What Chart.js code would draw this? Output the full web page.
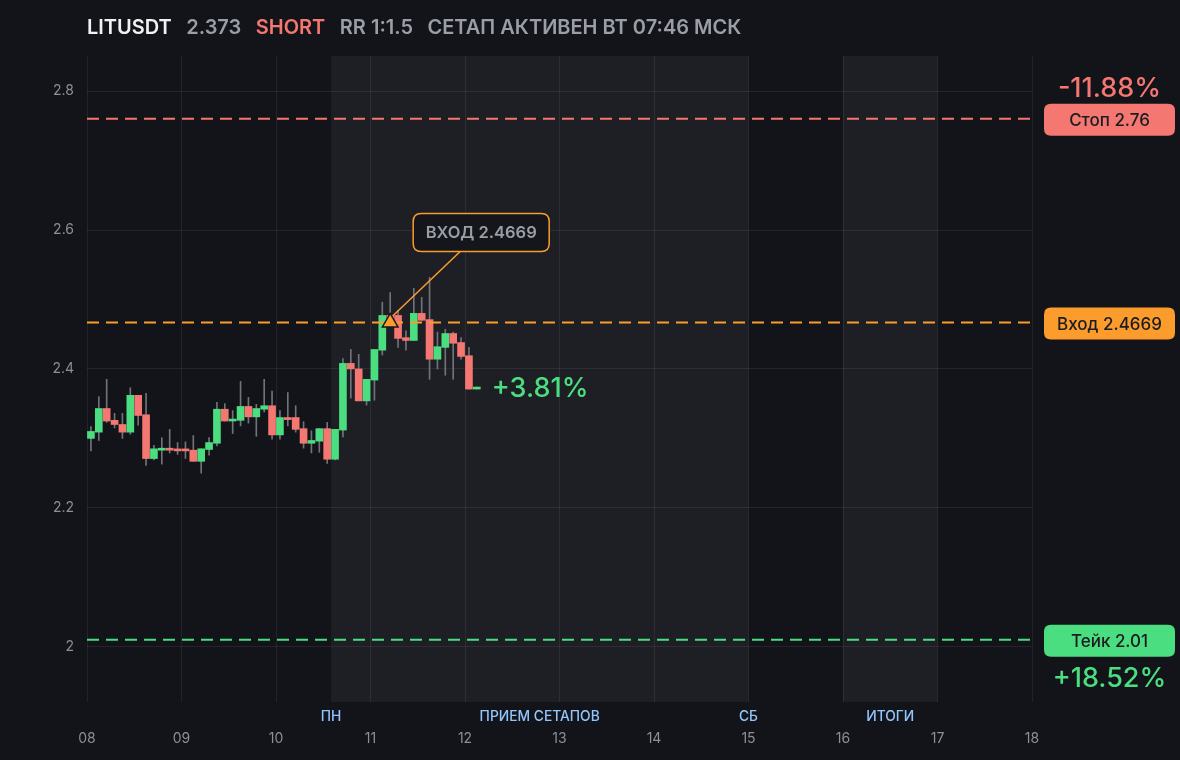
<!DOCTYPE html>
<html>
<head>
<meta charset="utf-8">
<script src="https://cdn.jsdelivr.net/npm/chart.js@4.4.1/dist/chart.umd.min.js"></script>
<style>
  html, body { margin: 0; padding: 0; background: #131419; }
  canvas { display: block; }
</style>
</head>
<body>
<canvas id="grafico" width="1180" height="760"></canvas>
<script>
// 2h свечи LITUSDT, 08..12
const opens  = [2.300,2.309,2.343,2.326,2.320,2.309,2.362,2.334,2.271,2.283,2.285,2.284,2.284,2.283,2.267,2.284,2.293,2.342,2.325,2.326,2.346,2.331,2.342,2.347,2.305,2.330,2.330,2.314,2.293,2.296,2.314,2.270,2.312,2.408,2.400,2.354,2.384,2.427,2.477,2.477,2.445,2.441,2.480,2.471,2.414,2.431,2.451,2.438,2.419,2.371];
const highs  = [2.317,2.360,2.385,2.336,2.336,2.373,2.362,2.365,2.290,2.301,2.313,2.294,2.295,2.304,2.285,2.301,2.352,2.350,2.340,2.382,2.359,2.349,2.385,2.368,2.340,2.366,2.347,2.324,2.311,2.314,2.323,2.313,2.415,2.428,2.421,2.385,2.428,2.496,2.510,2.484,2.455,2.516,2.503,2.532,2.453,2.457,2.453,2.445,2.431,2.374];
const lows   = [2.282,2.297,2.323,2.315,2.300,2.306,2.319,2.261,2.269,2.263,2.279,2.277,2.271,2.267,2.250,2.276,2.289,2.325,2.307,2.318,2.322,2.303,2.338,2.299,2.299,2.318,2.309,2.286,2.279,2.280,2.264,2.269,2.302,2.358,2.354,2.348,2.355,2.420,2.462,2.431,2.427,2.441,2.470,2.385,2.400,2.391,2.385,2.414,2.371,2.371];
const closes = [2.310,2.343,2.325,2.320,2.309,2.362,2.333,2.271,2.285,2.285,2.283,2.282,2.282,2.267,2.285,2.294,2.342,2.325,2.327,2.346,2.331,2.343,2.347,2.305,2.330,2.327,2.313,2.293,2.297,2.314,2.270,2.313,2.408,2.400,2.354,2.385,2.428,2.477,2.466,2.444,2.441,2.480,2.470,2.414,2.432,2.451,2.437,2.418,2.371,2.373];

const firstDay = 8;
const candleStep = 1 / 12; // 2 часа
const times = opens.map((_, i) => firstDay + (i + 0.5) * candleStep);

const entryPrice = 2.4669;
const stopPrice = 2.76;
const takePrice = 2.01;
const entryIndex = 38;

const xTickValues = [8, 9, 10, 11, 12, 13, 14, 15, 16, 17, 18];
const xTickLabels = ['08', '09', '10', '11', '12', '13', '14', '15', '16', '17', '18'];
const yTickValues = [2, 2.2, 2.4, 2.6, 2.8];
const yTickLabels = ['2', '2.2', '2.4', '2.6', '2.8'];

const bands = [[10.5833, 15], [16, 17]];
const bandLabels = [['ПН', 10.5833], ['ПРИЕМ СЕТАПОВ', 12.79], ['СБ', 15], ['ИТОГИ', 16.5]];

const VERDE = '#4ade80';
const ROJO = '#f47771';
const NARANJA = '#fb9c2c';
const GRIS = '#9a9ea6';

const lastClose = closes[closes.length - 1];
const pct = v => (entryPrice - v) / entryPrice * 100;
const fmtPct = v => (v >= 0 ? '+' : '') + v.toFixed(2) + '%';

const headerParts = [
  ['LITUSDT', '#f1f2f4'],
  [String(lastClose), GRIS],
  ['SHORT', ROJO],
  ['RR 1:1.5', GRIS],
  ['СЕТАП АКТИВЕН ВТ 07:46 МСК', GRIS]
];

function roundRect(ctx, x, y, w, h, r) {
  ctx.beginPath();
  ctx.moveTo(x + r, y);
  ctx.lineTo(x + w - r, y);
  ctx.quadraticCurveTo(x + w, y, x + w, y + r);
  ctx.lineTo(x + w, y + h - r);
  ctx.quadraticCurveTo(x + w, y + h, x + w - r, y + h);
  ctx.lineTo(x + r, y + h);
  ctx.quadraticCurveTo(x, y + h, x, y + h - r);
  ctx.lineTo(x, y + r);
  ctx.quadraticCurveTo(x, y, x + r, y);
  ctx.closePath();
}

const extras = {
  id: 'extras',
  beforeDraw(chart) {
    const { ctx, chartArea: a, scales: { x } } = chart;
    ctx.save();
    ctx.fillStyle = '#131419';
    ctx.fillRect(0, 0, chart.width, chart.height);
    ctx.fillStyle = '#1e1f24';
    bands.forEach(b => {
      const x1 = x.getPixelForValue(b[0]);
      const x2 = x.getPixelForValue(b[1]);
      ctx.fillRect(x1, a.top, x2 - x1, a.bottom - a.top);
    });
    ctx.restore();
  },
  afterDatasetsDraw(chart) {
    const { ctx, scales: { x, y } } = chart;
    const px = x.getPixelForValue(times[entryIndex]);
    const py = y.getPixelForValue(entryPrice);
    const bw = 136, bh = 38;
    const bx = px + 23, by = py - 109;
    ctx.save();
    ctx.strokeStyle = NARANJA;
    ctx.lineWidth = 1.5;
    ctx.beginPath();
    ctx.moveTo(px + 70, by + bh);
    ctx.lineTo(px + 3, py - 7);
    ctx.stroke();
    roundRect(ctx, bx, by, bw, bh, 8);
    ctx.fillStyle = '#15161b';
    ctx.fill();
    ctx.stroke();
    ctx.fillStyle = GRIS;
    ctx.font = '600 16.5px Inter';
    ctx.textAlign = 'center';
    ctx.textBaseline = 'middle';
    ctx.fillText('ВХОД ' + entryPrice, bx + bw / 2, by + bh / 2 + 1);

    // текущий результат
    const lx = x.getPixelForValue(times[times.length - 1]);
    const ly = y.getPixelForValue(lastClose);
    ctx.fillStyle = VERDE;
    ctx.font = '500 27px Inter';
    ctx.textAlign = 'left';
    ctx.fillText(fmtPct(pct(lastClose)), lx + 15, ly + 1);
    ctx.restore();
  },
  afterDraw(chart) {
    const { ctx, chartArea: a, scales: { x, y } } = chart;
    ctx.save();
    ctx.textBaseline = 'middle';

    // заголовок
    ctx.font = '600 20px Inter';
    ctx.textAlign = 'left';
    let hx = a.left;
    headerParts.forEach(p => {
      ctx.fillStyle = p[1];
      ctx.fillText(p[0], hx, 28);
      hx += ctx.measureText(p[0]).width + 14.5;
    });

    // подписи зон
    ctx.font = '500 13.8px Inter';
    ctx.textAlign = 'center';
    ctx.fillStyle = '#93c5fd';
    bandLabels.forEach(l => {
      ctx.fillText(l[0], x.getPixelForValue(l[1]), 717);
    });

    // плашки справа
    const pills = [
      ['Стоп ' + stopPrice, stopPrice, ROJO],
      ['Вход ' + entryPrice, entryPrice, NARANJA],
      ['Тейк ' + takePrice, takePrice, VERDE]
    ];
    const pl = a.right + 12, pw = 131, ph = 32;
    pills.forEach(p => {
      const cy = y.getPixelForValue(p[1]) + 1;
      roundRect(ctx, pl, cy - ph / 2, pw, ph, 7);
      ctx.fillStyle = p[2];
      ctx.fill();
      ctx.fillStyle = '#1b1c21';
      ctx.font = '500 17px Inter';
      ctx.fillText(p[0], pl + pw / 2, cy + 1);
    });

    ctx.font = '500 27px Inter';
    ctx.fillStyle = ROJO;
    ctx.fillText(fmtPct(pct(stopPrice)), pl + pw / 2, y.getPixelForValue(stopPrice) - 30);
    ctx.fillStyle = VERDE;
    ctx.fillText(fmtPct(pct(takePrice)), pl + pw / 2, y.getPixelForValue(takePrice) + 39);
    ctx.restore();
  }
};

const hLine = (v, color) => ({
  type: 'line',
  data: [{ x: xTickValues[0], y: v }, { x: xTickValues[xTickValues.length - 1], y: v }],
  borderColor: color,
  borderWidth: 2,
  borderDash: [12, 7],
  pointRadius: 0,
  order: 1
});

const colores = opens.map((o, i) => closes[i] >= o ? VERDE : ROJO);

const chart = new Chart(document.getElementById('grafico').getContext('2d'), {
  type: 'bar',
  data: {
    datasets: [
      {
        type: 'scatter',
        data: [{ x: times[entryIndex], y: entryPrice }],
        pointStyle: 'triangle',
        pointRadius: 9,
        backgroundColor: NARANJA,
        borderColor: '#17181d',
        borderWidth: 1.5,
        order: 0
      },
      hLine(stopPrice, ROJO),
      hLine(entryPrice, NARANJA),
      hLine(takePrice, VERDE),
      {
        data: times.map((t, i) => ({ x: t, y: [opens[i], closes[i]] })),
        backgroundColor: colores,
        barThickness: 7,
        minBarLength: 2,
        grouped: false,
        order: 2
      },
      {
        data: times.map((t, i) => ({ x: t, y: [lows[i], highs[i]] })),
        backgroundColor: '#707379',
        barThickness: 1,
        grouped: false,
        order: 3
      }
    ]
  },
  options: {
    responsive: false,
    animation: false,
    devicePixelRatio: 1,
    layout: { padding: { top: 56, right: 148, left: 0, bottom: 0 } },
    plugins: { legend: { display: false }, tooltip: { enabled: false } },
    scales: {
      x: {
        type: 'linear',
        min: 8,
        max: 18,
        offset: false,
        grid: { offset: false, color: 'rgba(255,255,255,0.07)', drawTicks: false },
        border: { display: false },
        afterBuildTicks: s => { s.ticks = xTickValues.map(v => ({ value: v })); },
        afterFit: s => { s.height = 58; },
        ticks: {
          padding: 28,
          color: '#8b8f98',
          font: { family: 'Inter', size: 14 },
          maxRotation: 0,
          autoSkip: false,
          callback: v => xTickLabels[xTickValues.indexOf(v)]
        }
      },
      y: {
        min: 1.9205,
        max: 2.8505,
        beginAtZero: false,
        grid: { color: 'rgba(255,255,255,0.07)', drawTicks: false },
        border: { display: false },
        afterBuildTicks: s => { s.ticks = yTickValues.map(v => ({ value: v })); },
        afterFit: s => { s.width = 87; },
        ticks: {
          padding: 13,
          color: '#8b8f98',
          font: { family: 'Inter', size: 14 },
          callback: v => yTickLabels[yTickValues.indexOf(v)]
        }
      }
    }
  },
  plugins: [extras]
});
</script>
</body>
</html>
